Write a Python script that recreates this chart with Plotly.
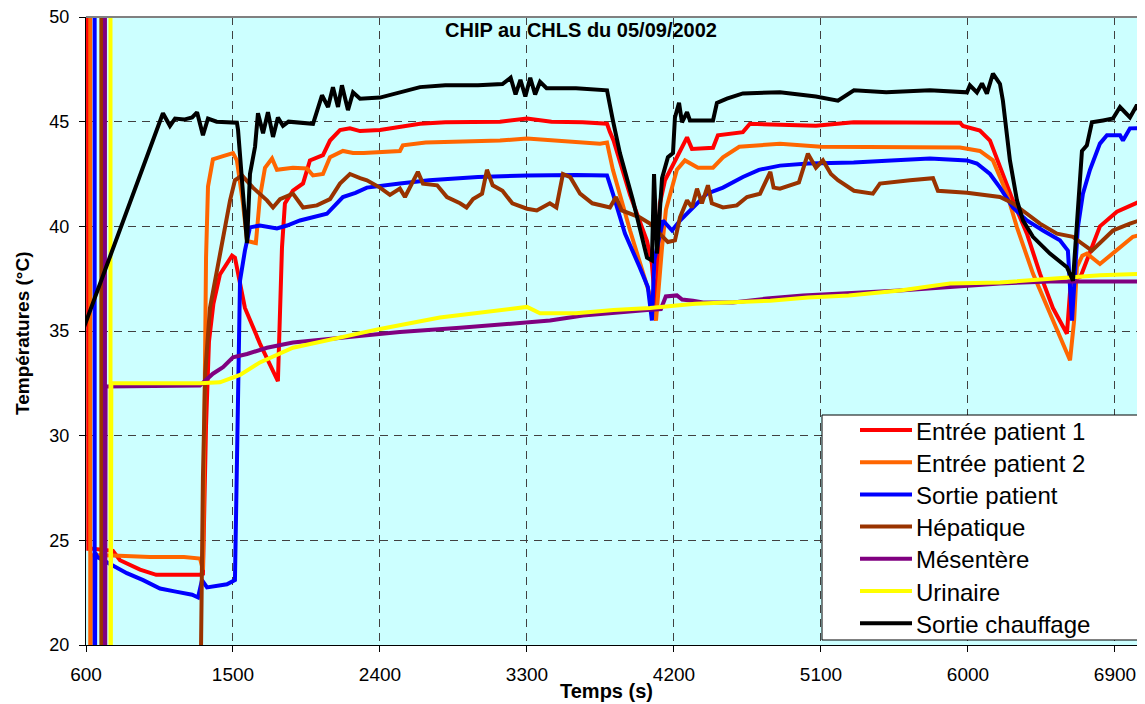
import plotly.graph_objects as go

# temperatures (°C) versus time (s)
t_entree1 = [612, 614, 640, 765, 808, 931, 1030, 1298, 1316, 1335, 1353, 1380, 1420, 1494, 1512,
             1573, 1665, 1745, 1775, 1800, 1818, 1867, 1929, 1971, 2051, 2094, 2155, 2216, 2278,
             2400, 2522, 2645, 2800, 3135, 3300, 3450, 3640, 3790, 3808, 3830, 3931, 4035, 4065,
             4090, 4114, 4145, 4218, 4280, 4310, 4439, 4469, 4622, 4665, 4849, 5069, 5300, 5600,
             5951, 5969, 6073, 6135, 6196, 6275, 6361, 6441, 6520, 6606, 6630, 6690, 6808, 6912, 7084]
v_entree1 = [55, 24.6, 24.6, 24.5, 24.05, 23.6, 23.35, 23.35, 23.4, 30.5, 34.5, 36.3, 37.7, 38.6, 38.5,
             36.1, 34.4, 33.1, 32.6, 39.0, 41.1, 41.7, 42.05, 43.15, 43.4, 44.1, 44.6, 44.68, 44.55,
             44.6, 44.75, 44.9, 44.97, 45.0, 45.15, 45.0, 44.97, 44.9, 44.5, 44.1, 41.5, 39.3, 38.2,
             35.8, 41.1, 42.2, 43.3, 44.25, 43.7, 43.75, 44.35, 44.5, 44.9, 44.85, 44.8, 44.97, 44.95,
             44.95, 44.8, 44.58, 44.1, 42.8, 41.24, 39.65, 37.74, 36.1, 34.87, 37.4, 37.6, 40.0, 40.7, 41.3]

t_entree2 = [626, 626, 630, 765, 992, 1200, 1298, 1316, 1325, 1335, 1347, 1377, 1439, 1500, 1524,
             1561, 1586, 1640, 1665, 1696, 1739, 1769, 1867, 1953, 1990, 2051, 2094, 2173, 2235,
             2300, 2522, 2540, 2680, 3135, 3300, 3600, 3747, 3790, 3826, 3931, 4035, 4065, 4090,
             4114, 4127, 4151, 4218, 4267, 4347, 4439, 4500, 4600, 4849, 5100, 5500, 5951, 6073,
             6153, 6239, 6300, 6398, 6502, 6606, 6625, 6650, 6667, 6700, 6728, 6808, 6888, 7010, 7084]
v_entree2 = [55, 10, 24.3, 24.27, 24.2, 24.2, 24.13, 23.6, 32, 38.5, 41.9, 43.2, 43.35, 43.5, 43.15,
             41.1, 39.3, 39.2, 41.4, 42.8, 43.24, 42.7, 42.8, 42.76, 42.43, 42.5, 43.3, 43.6, 43.5,
             43.5, 43.6, 43.87, 44.0, 44.1, 44.2, 44.05, 43.95, 44.0, 42.7, 39.8, 37.1, 36.4, 35.5,
             38.2, 39.0, 40.8, 42.7, 43.15, 42.8, 42.8, 43.3, 43.8, 43.95, 43.8, 43.8, 43.77, 43.6,
             43.15, 41.56, 39.95, 37.74, 35.8, 33.9, 33.6, 35.5, 38.05, 38.6, 38.7, 38.2, 38.7, 39.5, 39.65]

t_sortie = [653, 653, 657, 670, 765, 850, 950, 1053, 1150, 1250, 1286, 1310, 1341, 1463, 1512,
            1525, 1531, 1543, 1573, 1604, 1665, 1769, 1831, 1910, 2075, 2173, 2250, 2320, 2522,
            2700, 3000, 3300, 3600, 3790, 3826, 3900, 3990, 4040, 4065, 4080, 4133, 4188, 4237,
            4298, 4402, 4500, 4622, 4720, 4849, 5020, 5300, 5530, 5767, 5994, 6055, 6135, 6196,
            6275, 6361, 6459, 6563, 6612, 6637, 6673, 6704, 6747, 6808, 6851, 6931, 6949, 6992, 7084]
v_sortie = [55, 10, 24.4, 24.2, 23.8, 23.43, 23.1, 22.7, 22.55, 22.4, 22.27, 23.1, 22.75, 22.9, 23.1,
            30.0, 32.6, 37.4, 38.84, 39.95, 40.04, 39.9, 40.04, 40.28, 40.6, 41.4, 41.6, 41.85, 42.05,
            42.2, 42.36, 42.43, 42.45, 42.43, 41.56, 39.65, 38.05, 37.1, 35.5, 38.4, 40.28, 39.8, 40.28,
            40.76, 41.56, 41.85, 42.36, 42.7, 42.9, 43.0, 43.05, 43.15, 43.24, 43.15, 43.0, 42.5, 41.85,
            40.9, 40.28, 39.8, 39.33, 38.84, 35.5, 39.95, 41.56, 42.7, 43.95, 44.35, 44.35, 44.1, 44.68, 44.7]

t_hepatique = [694, 694, 1290, 1316, 1330, 1359, 1420, 1482, 1512, 1555, 1622, 1708, 1745, 1788,
               1867, 1929, 2014, 2094, 2155, 2216, 2278, 2320, 2400, 2461, 2522, 2553, 2632, 2663,
               2750, 2810, 2890, 2930, 2970, 3025, 3055, 3090, 3150, 3210, 3300, 3360, 3440, 3480,
               3520, 3565, 3625, 3700, 3808, 3845, 3880, 3990, 4053, 4127, 4163, 4206, 4237, 4280,
               4310, 4341, 4371, 4408, 4432, 4500, 4585, 4647, 4727, 4790, 4810, 4849, 4965, 5020,
               5069, 5112, 5161, 5204, 5302, 5418, 5461, 5645, 5786, 5816, 5994, 6196, 6275, 6361,
               6441, 6545, 6643, 6698, 6759, 6808, 6888, 6992, 7084]
v_hepatique = [55, 10, 10, 28, 33, 36.1, 38.65, 41.24, 42.2, 42.43, 41.85, 41.24, 40.9, 41.3,
               41.56, 40.9, 41.0, 41.3, 42.04, 42.5, 42.3, 42.2, 41.85, 41.5, 41.8, 41.4, 42.6, 42.04,
               41.96, 41.4, 41.1, 40.9, 41.3, 41.56, 42.7, 41.96, 41.7, 41.1, 40.84, 40.76, 41.1, 40.9,
               42.5, 42.35, 41.56, 41.1, 40.9, 41.4, 40.76, 40.43, 40.13, 39.5, 39.25, 39.33, 40.43, 41.24,
               40.9, 41.8, 41.1, 41.96, 41.1, 40.9, 41.0, 41.4, 41.56, 42.6, 41.85, 41.8, 42.1, 43.47,
               42.8, 43.15, 42.5, 42.2, 41.7, 41.56, 42.04, 42.2, 42.3, 41.7, 41.6, 41.4, 41.1, 40.6,
               40.13, 39.65, 39.5, 39.18, 38.84, 39.2, 39.8, 40.13, 40.37]

t_mesentere = [716, 716, 720, 1298, 1377, 1439, 1500, 1586, 1708, 1867, 2075, 2278, 2522, 2890,
               3135, 3441, 3643, 3851, 4035, 4120, 4150, 4218, 4250, 4316, 4378, 4561, 4769, 4990,
               5278, 5584, 5890, 6196, 6502, 7084]
v_mesentere = [55, 10, 32.35, 32.4, 32.96, 33.27, 33.74, 33.9, 34.2, 34.45, 34.6, 34.78, 34.95, 35.15,
               35.3, 35.5, 35.74, 35.9, 36.0, 36.05, 36.65, 36.7, 36.5, 36.45, 36.36, 36.36, 36.55, 36.7,
               36.8, 36.94, 37.1, 37.27, 37.37, 37.37]

t_urinaire = [750, 750, 755, 1298, 1420, 1543, 1665, 1867, 2075, 2278, 2400, 2767, 3135, 3300,
              3380, 3600, 3830, 4053, 4330, 4560, 4790, 5020, 5270, 5584, 5890, 6196, 6502, 6808, 7084]
v_urinaire = [55, 10, 32.5, 32.5, 32.55, 32.9, 33.5, 34.2, 34.55, 34.87, 35.1, 35.64, 36.0, 36.15,
              35.85, 35.85, 36.0, 36.1, 36.3, 36.36, 36.45, 36.6, 36.7, 36.94, 37.27, 37.32, 37.5, 37.66, 37.74]

t_chauffage = [560, 1071, 1114, 1145, 1200, 1250, 1280, 1316, 1347, 1400, 1524, 1531, 1561, 1586,
               1604, 1635, 1653, 1684, 1714, 1745, 1775, 1806, 1840, 1990, 2045, 2082, 2112, 2143,
               2167, 2204, 2235, 2278, 2400, 2522, 2645, 2800, 3000, 3150, 3200, 3230, 3260, 3290,
               3320, 3350, 3380, 3420, 3600, 3790, 3808, 3826, 3869, 3949, 4035, 4065, 4078, 4096,
               4127, 4163, 4194, 4206, 4231, 4249, 4280, 4298, 4439, 4463, 4524, 4622, 4849, 5069,
               5204, 5302, 5500, 5767, 5994, 6012, 6055, 6086, 6116, 6153, 6196, 6214, 6257, 6300,
               6337, 6398, 6502, 6606, 6643, 6667, 6698, 6728, 6759, 6827, 6888, 6931, 6992, 7035, 7071]
v_chauffage = [34.6, 45.4, 44.8, 45.15, 45.1, 45.2, 45.45, 44.35, 45.15, 45.0, 44.95, 44.6, 41.6, 39.2,
               42.5, 43.8, 45.4, 44.45, 45.45, 44.27, 45.2, 44.8, 45.0, 44.9, 46.26, 45.7, 46.65, 45.7,
               46.74, 45.55, 46.4, 46.1, 46.15, 46.4, 46.65, 46.74, 46.74, 46.8, 47.1, 46.3, 47.0, 46.2,
               47.1, 46.3, 46.9, 46.6, 46.6, 46.5, 45.7, 45.06, 43.5, 41.24, 38.5, 38.37, 42.5, 38.7,
               42.3, 43.3, 43.5, 45.2, 45.9, 44.97, 45.45, 45.06, 45.06, 45.9, 46.1, 46.35, 46.4, 46.2,
               46.0, 46.5, 46.4, 46.5, 46.4, 46.74, 46.4, 46.83, 46.34, 47.3, 46.8, 46.0, 43.15, 41.24,
               40.28, 39.5, 38.7, 38.05, 37.4, 39.95, 43.6, 43.87, 44.97, 45.06, 45.15, 45.7, 45.2, 45.8, 44.97]

names = ["Entrée patient 1", "Entrée patient 2", "Sortie patient", "Hépatique",
         "Mésentère", "Urinaire", "Sortie chauffage"]
colors = ["#FF0000", "#FF6600", "#0000FF", "#993300", "#800080", "#FFFF00", "#000000"]
series = [(t_entree1, v_entree1), (t_entree2, v_entree2), (t_sortie, v_sortie),
          (t_hepatique, v_hepatique), (t_mesentere, v_mesentere), (t_urinaire, v_urinaire),
          (t_chauffage, v_chauffage)]

FONT = "Liberation Sans, Arial, sans-serif"
# the page body has an 8px margin, so the figure is made 8px smaller
OFF = 8
W, H = 1145 - OFF, 704 - OFF
X0, X1, Y0, Y1 = 86, 1145, 17, 645          # plot area in window pixels
ML, MT = X0 - OFF, Y0 - OFF
MR, MB = 0, H - (Y1 - OFF)


# window pixel -> paper coordinates, for the hand-made legend and labels
def px(x):
    return (x - X0) / (X1 - X0)


def py(y):
    return (Y1 - y) / (Y1 - Y0)


fig = go.Figure()
for (t, v), name, col in zip(series, names, colors):
    fig.add_trace(go.Scatter(x=t, y=v, mode="lines", name=name,
                             line=dict(color=col, width=4), showlegend=False))

shapes = [dict(type="line", xref="paper", yref="paper", x0=0, x1=1, y0=1, y1=1,
               line=dict(color="#808080", width=2))]
annotations = [
    dict(text="<b>CHIP au CHLS du 05/09/2002</b>", x=px(581), y=py(30), xref="paper", yref="paper",
         showarrow=False, xanchor="center", yanchor="middle", font=dict(size=20)),
    dict(text="<b>Temps (s)</b>", x=px(606), y=py(691), xref="paper", yref="paper",
         showarrow=False, xanchor="center", yanchor="middle", font=dict(size=20)),
    dict(text="<b>Températures (°C)</b>", x=px(22), y=py(333), xref="paper", yref="paper",
         showarrow=False, textangle=-90, xanchor="center", yanchor="middle", font=dict(size=19)),
]

# legend box drawn by hand (Excel-like long line samples)
shapes.append(dict(type="rect", xref="paper", yref="paper", x0=px(822), x1=px(1160),
                   y0=py(640), y1=py(415), line=dict(color="black", width=1),
                   fillcolor="white", layer="above"))
for i, (name, col) in enumerate(zip(names, colors)):
    yc = 430 + i * 32.2
    shapes.append(dict(type="line", xref="paper", yref="paper", x0=px(860), x1=px(912),
                       y0=py(yc), y1=py(yc), line=dict(color=col, width=4), layer="above"))
    annotations.append(dict(text=name, x=px(914), y=py(yc + 1), xref="paper", yref="paper",
                            showarrow=False, xanchor="left", yanchor="middle",
                            font=dict(size=24)))

fig.update_layout(
    width=W, height=H, margin=dict(l=ML, r=MR, t=MT, b=MB, autoexpand=False),
    paper_bgcolor="white", plot_bgcolor="#CCFFFF",
    showlegend=False, font=dict(family=FONT, color="black"),
    shapes=shapes, annotations=annotations,
)
fig.update_xaxes(range=[600, 7084], tick0=600, dtick=900, ticks="outside", ticklen=6,
                 tickcolor="black", tickfont=dict(size=19), ticklabelstandoff=6,
                 ticklabeloverflow="allow",
                 showgrid=True, gridcolor="#404040", gridwidth=1, griddash="8px,6px",
                 showline=True, linecolor="black", linewidth=1, zeroline=False, automargin=False)
fig.update_yaxes(range=[20, 50], tick0=20, dtick=5, ticks="outside", ticklen=6,
                 tickcolor="black", tickfont=dict(size=18), ticklabelstandoff=6,
                 ticklabeloverflow="allow",
                 showgrid=True, gridcolor="#404040", gridwidth=1, griddash="8px,6px",
                 showline=True, linecolor="black", linewidth=1, zeroline=False, automargin=False)

fig.write_html("out.html")
